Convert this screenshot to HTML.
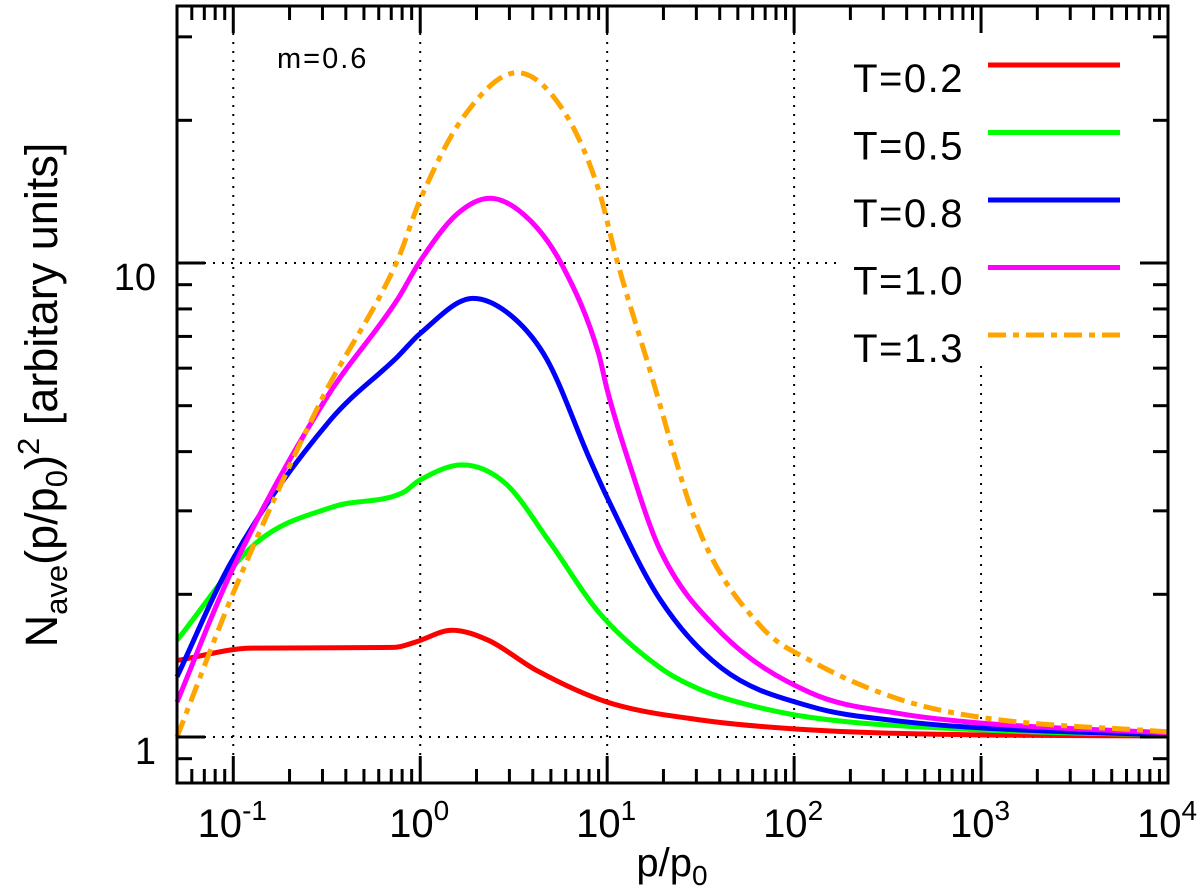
<!DOCTYPE html>
<html><head><meta charset="utf-8"><style>
html,body{margin:0;padding:0;background:#fff;}
svg{display:block;font-family:"Liberation Sans","DejaVu Sans",sans-serif;}
</style></head><body>
<svg id="chart" width="1200" height="896" viewBox="0 0 1200 896">
<g id="grid"></g>
<g id="series"></g>
<rect x="842" y="10" width="322" height="355" fill="#fff"/>
<g id="legend"></g>
<g id="axes"></g>
<text x="277" y="68" font-size="29" letter-spacing="2">m=0.6</text>
<text transform="translate(57,395) rotate(-90)" font-size="45" text-anchor="middle">N<tspan font-size="31" dy="10">ave</tspan><tspan dy="-10">(p/p</tspan><tspan font-size="31" dy="10">0</tspan><tspan dy="-10">)</tspan><tspan font-size="31" dy="-18">2</tspan><tspan dy="18"> [arbitary units]</tspan></text>
<text x="672" y="876" font-size="40" text-anchor="middle">p/p<tspan font-size="28" dy="9">0</tspan></text>
</svg>
<script>
const xExps=[-1,0,1,2,3,4];
const yTicks=[1,10];
const seriesNames=["T=0.2","T=0.5","T=0.8","T=1.0","T=1.3"];
const seriesColors=["#ff0000","#00ff00","#0000ff","#ff00ff","#ffa500"];
const redP=[0.05,0.126,0.726,0.94,1.48,2.31,4.22,10,31.7,122,1000,10000];
const redN=[1.45,1.54,1.545,1.585,1.68,1.60,1.38,1.185,1.086,1.035,1.01,1.005];
const greenP=[0.05,0.133,0.343,0.81,0.99,1.68,2.85,4.95,9.05,19.2,31.4,52,122,1000,10000];
const greenN=[1.60,2.57,3.06,3.28,3.48,3.75,3.43,2.57,1.83,1.40,1.26,1.18,1.10,1.035,1.01];
const blueP=[0.05,0.097,0.33,0.753,1,1.92,3.14,4.77,8.1,10,19.2,40.7,122,369,1000,10000];
const blueN=[1.34,2.33,4.66,6.33,7.1,8.42,7.68,6.25,3.84,3.2,1.95,1.40,1.16,1.08,1.045,1.01];
const magP=[0.05,0.097,0.31,0.753,1,1.58,2.37,3.87,5.82,8.99,10,12.8,19.2,40.7,122,369,1000,10000];
const magN=[1.185,2.22,5.14,8.36,10.1,12.7,13.7,12.3,9.8,6.45,5.4,3.9,2.48,1.66,1.24,1.12,1.07,1.02];
const oraP=[0.05,0.103,0.296,0.753,1,1.70,3.3,5.82,8.99,11.3,16.3,31.4,67.5,122,369,1000,10000];
const oraN=[1.0,2.07,5.14,10.1,13.6,20.3,25.2,21.0,14.3,10.1,6.25,2.7,1.7,1.45,1.2,1.10,1.025];
const seriesP=[redP,greenP,blueP,magP,oraP];
const seriesN=[redN,greenN,blueN,magN,oraN];

const L=177,R=1168,T=6,B=783;
const xMin=Math.log10(0.05),xMax=4;
function xs(p){return L+(Math.log10(p)-xMin)/(xMax-xMin)*(R-L);}
function ys(n){return 737-(Math.log10(n))*474;}
const NS="http://www.w3.org/2000/svg";
function mk(tag,attrs,parent){const e=document.createElementNS(NS,tag);for(const k in attrs)e.setAttribute(k,attrs[k]);parent.appendChild(e);return e;}
const grid=document.getElementById('grid'),axes=document.getElementById('axes'),ser=document.getElementById('series'),leg=document.getElementById('legend');
const dot={stroke:"#000","stroke-width":2,"stroke-dasharray":"2,7",fill:"none"};
xExps.slice(0,5).forEach(e=>{const x=xs(Math.pow(10,e));const g=mk('line',Object.assign({x1:x,x2:x,y1:T,y2:B},dot),grid);

});
yTicks.forEach(v=>{const y=ys(v);const g=mk('line',Object.assign({x1:L,x2:R,y1:y,y2:y},dot),grid);

});
function pathFrom(P,N){const pts=P.map((p,i)=>[xs(p),ys(N[i])]);const n=pts.length;
const d=[],m=[];for(let i=0;i<n-1;i++)d.push((pts[i+1][1]-pts[i][1])/(pts[i+1][0]-pts[i][0]));
m[0]=d[0];m[n-1]=d[n-2];for(let i=1;i<n-1;i++){m[i]=(d[i-1]*d[i]<=0)?0:(d[i-1]+d[i])/2;}
for(let i=0;i<n-1;i++){if(d[i]===0){m[i]=0;m[i+1]=0;continue;}const a=m[i]/d[i],b=m[i+1]/d[i],s=a*a+b*b;if(s>9){const t=3/Math.sqrt(s);m[i]=t*a*d[i];m[i+1]=t*b*d[i];}}
let s="M"+pts[0][0].toFixed(1)+","+pts[0][1].toFixed(1);
for(let i=0;i<n-1;i++){const h=(pts[i+1][0]-pts[i][0])/3;
s+=" C"+(pts[i][0]+h).toFixed(1)+","+(pts[i][1]+m[i]*h).toFixed(1)+" "+(pts[i+1][0]-h).toFixed(1)+","+(pts[i+1][1]-m[i+1]*h).toFixed(1)+" "+pts[i+1][0].toFixed(1)+","+pts[i+1][1].toFixed(1);}
return s;}
seriesP.forEach((P,i)=>{const a={d:pathFrom(P,seriesN[i]),fill:"none",stroke:seriesColors[i],"stroke-width":5,"stroke-linejoin":"round"};
if(i===4)a["stroke-dasharray"]="18,7,6,7";
const p=mk('path',a,ser);

});
seriesNames.forEach((s,i)=>{const y=65+i*67.5;
const t=mk('text',{x:964,y:y+27,"font-size":40,"letter-spacing":"1.5","text-anchor":"end"},leg);t.textContent=s;


const a={x1:988,x2:1120,y1:y,y2:y,stroke:seriesColors[i],"stroke-width":5};if(i===4)a["stroke-dasharray"]="18,7,6,7";
const l=mk('line',a,leg);

});
const fr=mk('rect',{x:L,y:T,width:R-L,height:B-T,fill:"none",stroke:"#000","stroke-width":3},axes);


function tick(x1,y1,x2,y2,name){const t=mk('line',{x1,y1,x2,y2,stroke:"#000","stroke-width":3},axes);

}
for(let e=-2;e<=3;e++){for(let m=1;m<=9;m++){const v=m*Math.pow(10,e);if(v<0.05||v>10000)continue;const x=xs(v);const len=m===1?27:14;
tick(x,B,x,B-len,'x-tick');tick(x,T,x,T+len,'x-tick');}}
tick(R,B,R,B-27,'x-tick');tick(R,T,R,T+27,'x-tick');
[0.9,1,2,3,4,5,6,7,8,9,10,20,30].forEach(v=>{const y=ys(v);const len=(v===1||v===10)?28:15;tick(L,y,L+len,y,'y-tick');tick(R,y,R-len,y,'y-tick');});
xExps.forEach(e=>{const x=xs(Math.pow(10,e));const t=mk('text',{x:x-1,y:837,"font-size":40,"text-anchor":"middle"},axes);
t.innerHTML='10<tspan font-size="28" dy="-17">'+(e<0?'-'+(-e):e)+'</tspan>';

});
yTicks.forEach(v=>{const t=mk('text',{x:156,y:ys(v)+27,"font-size":38,"text-anchor":"end"},axes);t.textContent=String(v);

});
</script>
</body></html>
